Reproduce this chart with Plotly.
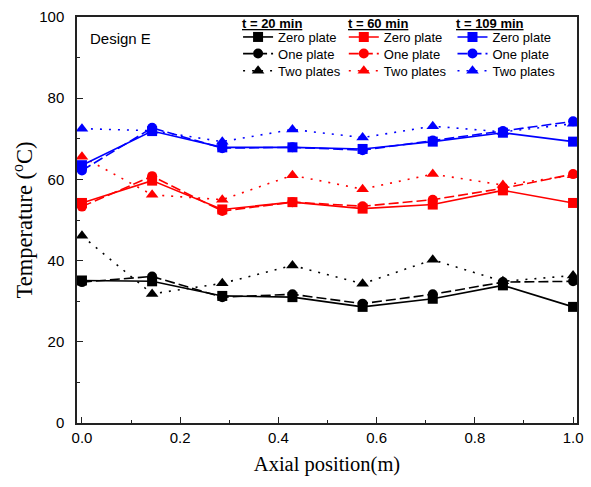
import plotly.graph_objects as go

# Axial measurement positions (m)
positions = [0.0, 1/7, 2/7, 3/7, 4/7, 5/7, 6/7, 1.0]

# Temperatures (°C) at t = 20 min
t20_zero = [35.1, 34.9, 31.3, 31.0, 28.6, 30.6, 33.9, 28.6]
t20_one = [34.7, 36.1, 31.0, 31.7, 29.4, 31.7, 34.7, 34.9]
t20_two = [46.1, 31.8, 34.4, 38.8, 34.3, 40.2, 34.9, 36.3]

# Temperatures (°C) at t = 60 min
t60_zero = [54.2, 59.7, 52.6, 54.4, 52.8, 53.8, 57.3, 54.2]
t60_one = [53.3, 60.8, 52.2, 54.4, 53.4, 55.0, 57.8, 61.3]
t60_two = [65.6, 56.2, 55.0, 61.0, 57.6, 61.3, 58.6, 61.0]

# Temperatures (°C) at t = 109 min
t109_zero = [63.5, 71.9, 67.9, 67.9, 67.5, 69.3, 71.5, 69.3]
t109_one = [62.2, 72.7, 67.7, 67.9, 67.2, 69.6, 71.9, 74.3]
t109_two = [72.5, 72.0, 69.3, 72.3, 70.3, 73.1, 71.7, 73.7]

series_labels = ["Zero plate", "One plate", "Two plates"]
group_titles = ["t = 20 min", "t = 60 min", "t = 109 min"]
group_colors = ["black", "red", "blue"]
group_data = [
    [t20_zero, t20_one, t20_two],
    [t60_zero, t60_one, t60_two],
    [t109_zero, t109_one, t109_two],
]
symbols = ["square", "circle", "triangle-up"]
dashes = ["solid", "10px,4px", "2px,7px"]

# Plot-area geometry in pixels, used to place the legend grid
W, H = 591, 487
L, R, T, B = 77, 8, 13, 64
plot_w, plot_h = W - L - R, H - T - B

def px_x(px):
    return (px - L) / plot_w

def px_y(py):
    return (H - B - py) / plot_h

col_left = [240, 347, 457]     # left edge of each legend column (px)
row_mid = [33.2, 50.0, 67.3]    # vertical centre of each legend row (px)
header_mid = 19.3

legend_font = dict(family="Liberation Sans, Arial, sans-serif", size=13, color="black")

fig = go.Figure()
layout_legends = {}
n = 0
for gi, (color, sets) in enumerate(zip(group_colors, group_data)):
    for si, (label, values) in enumerate(zip(series_labels, sets)):
        n += 1
        legend_id = "legend" if n == 1 else f"legend{n}"
        sym = symbols[si]
        fig.add_trace(go.Scatter(
            x=positions, y=values, name=label, mode="lines+markers",
            line=dict(color=color, width=1.6, dash=dashes[si]),
            marker=dict(symbol=sym, size=11 if sym == "triangle-up" else 10, color=color),
            legend=legend_id, showlegend=True,
        ))
        layout_legends[legend_id] = dict(
            x=px_x(col_left[gi]), y=px_y(row_mid[si]),
            xref="paper", yref="paper", xanchor="left", yanchor="middle",
            bgcolor="rgba(0,0,0,0)", borderwidth=0, font=legend_font,
            itemwidth=30, visible=True,
        )

axis_font = dict(family="Liberation Sans, Arial, sans-serif", size=15, color="black")
serif = "Liberation Serif, Times New Roman, serif"

annotations = [dict(
    text="Design E", x=px_x(88), y=px_y(35), xref="paper", yref="paper",
    xanchor="left", yanchor="middle", showarrow=False,
    font=dict(family="Liberation Sans, Arial, sans-serif", size=15, color="black"),
)]
for gi, title in enumerate(group_titles):
    annotations.append(dict(
        text="<b><u>" + title + "</u></b>", x=px_x(col_left[gi] + 2), y=px_y(header_mid),
        xref="paper", yref="paper", xanchor="left", yanchor="middle", showarrow=False,
        font=legend_font,
    ))

fig.update_layout(
    width=W, height=H,
    margin=dict(l=L, r=R, t=T, b=B),
    paper_bgcolor="white", plot_bgcolor="white",
    showlegend=True,
    xaxis=dict(
        range=[-0.0101, 1.008], tickmode="array",
        tickvals=[0, 0.2, 0.4, 0.6, 0.8, 1.0],
        ticktext=["0.0", "0.2", "0.4", "0.6", "0.8", "1.0"],
        ticks="inside", ticklen=6, tickwidth=1.3, tickcolor="#222",
        minor=dict(tickvals=[0.1, 0.3, 0.5, 0.7, 0.9], ticks="inside", ticklen=3, tickwidth=1.2, tickcolor="#222"),
        showline=True, linecolor="#222", linewidth=1.5, mirror=True,
        showgrid=False, zeroline=False, tickfont=axis_font,
        title=dict(text="Axial position(m)", font=dict(family=serif, size=20.5, color="black"), standoff=12),
    ),
    yaxis=dict(
        range=[0, 100], tickmode="array", tickvals=[0, 20, 40, 60, 80, 100],
        ticks="inside", ticklen=6, tickwidth=1.3, tickcolor="#222",
        minor=dict(tickvals=[10, 30, 50, 70, 90], ticks="inside", ticklen=3, tickwidth=1.2, tickcolor="#222"),
        showline=True, linecolor="#222", linewidth=1.5, mirror=True,
        showgrid=False, zeroline=False, tickfont=axis_font,
        ticklabelstandoff=8,
        title=dict(text="Temperature (<sup>o</sup>C)", font=dict(family=serif, size=22.5, color="black"), standoff=0),
    ),
    annotations=annotations,
    **layout_legends,
)

fig.write_html("out.html")
